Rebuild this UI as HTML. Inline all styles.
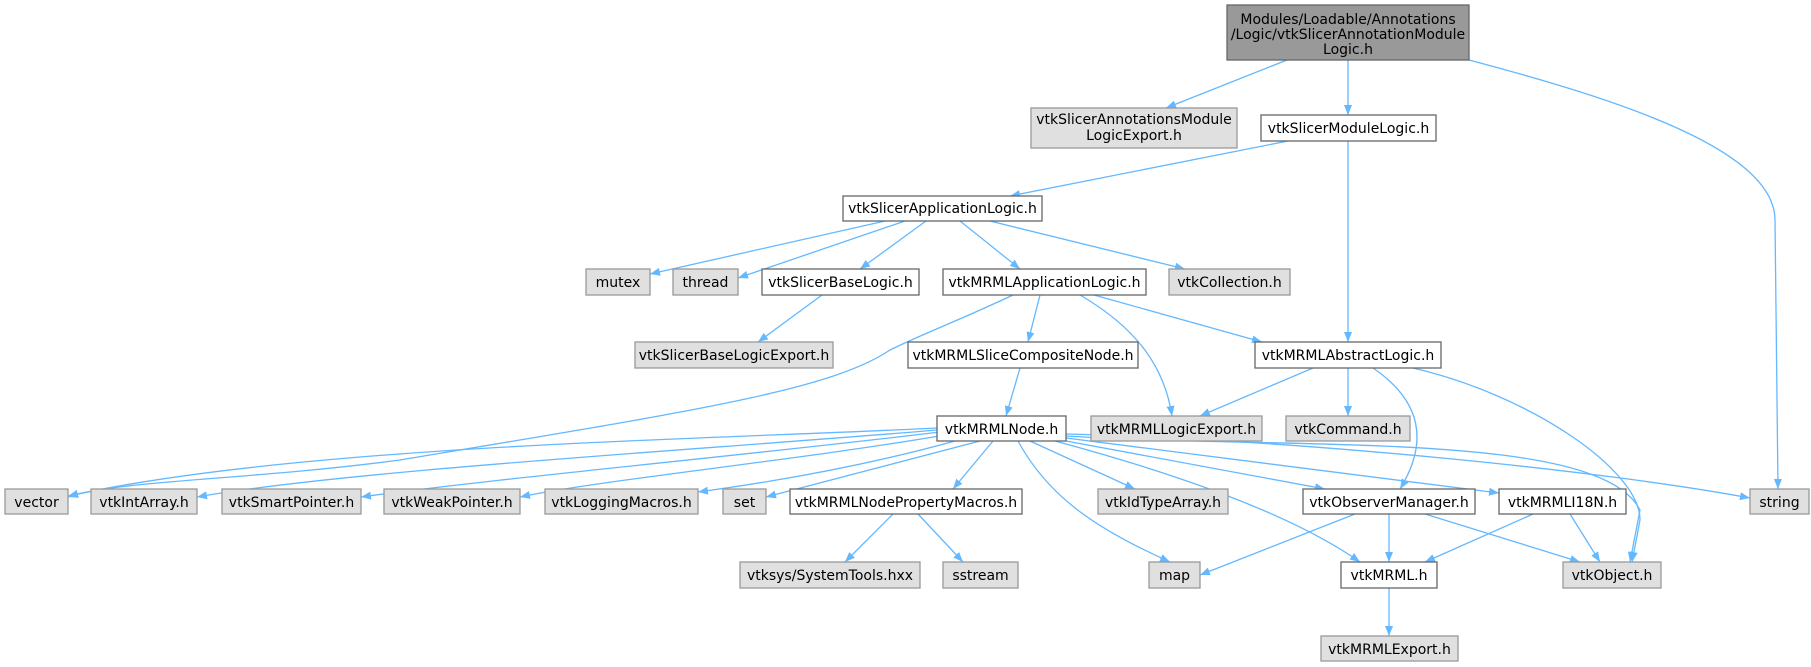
<!DOCTYPE html>
<html><head><meta charset="utf-8"><style>
html,body{margin:0;padding:0;background:#fff;width:1811px;height:667px;overflow:hidden}
text{font-family:"DejaVu Sans","Liberation Sans",sans-serif;font-size:14px;fill:#000}
.e{fill:none;stroke:#63b8ff;stroke-width:1.3}
.w{fill:#fff;stroke:#666;stroke-width:1.3}
.g{fill:#e0e0e0;stroke:#999;stroke-width:1.3}
.r{fill:#999;stroke:#666;stroke-width:1.3}
</style></head><body>
<svg width="1811" height="667" viewBox="0 0 1811 667" xmlns="http://www.w3.org/2000/svg">
<defs><marker id="a" viewBox="0 0 10 10" refX="10" refY="5" markerWidth="10" markerHeight="10" markerUnits="userSpaceOnUse" orient="auto"><path d="M0,1 L10,5 L0,9 Z" fill="#63b8ff"/></marker></defs>
<g marker-end="url(#a)">
<path class="e" d="M1287,60 L1166,108"/>
<path class="e" d="M1348,60 L1348,115"/>
<path class="e" d="M1469,60 C1620,100 1775,150 1775,220 L1778,489"/>
<path class="e" d="M1288,141 L1010,196"/>
<path class="e" d="M1348,141 L1348,342"/>
<path class="e" d="M885,221 L650,274"/>
<path class="e" d="M905,221 L738,278"/>
<path class="e" d="M926,221 L860,269"/>
<path class="e" d="M960,221 L1020,269"/>
<path class="e" d="M990,221 L1185,269"/>
<path class="e" d="M822,295 L758,342"/>
<path class="e" d="M1013,295 C960,320 920,335 890,350 C830,390 700,410 400,460 C250,480 120,480 68,497"/>
<path class="e" d="M1040,295 L1028,342"/>
<path class="e" d="M1080,295 C1140,330 1165,370 1172,416"/>
<path class="e" d="M1094,295 L1262,342"/>
<path class="e" d="M1020,368 L1006,416"/>
<path class="e" d="M1313,368 L1200,416"/>
<path class="e" d="M1348,368 L1348,416"/>
<path class="e" d="M1373,368 C1420,400 1430,440 1400,489"/>
<path class="e" d="M1413,368 C1530,395 1640,470 1640,520 L1632,562"/>
<path class="e" d="M937,428 C700,440 300,445 68,496"/>
<path class="e" d="M937,430 C700,450 350,470 197,497"/>
<path class="e" d="M940,432 C750,455 500,478 361,497"/>
<path class="e" d="M945,435 C800,460 600,480 520,497"/>
<path class="e" d="M955,441 C850,470 750,485 698,492"/>
<path class="e" d="M980,441 L766,497"/>
<path class="e" d="M993,441 L953,489"/>
<path class="e" d="M1018,441 C1050,500 1100,530 1170,562"/>
<path class="e" d="M1030,441 L1135,489"/>
<path class="e" d="M1055,441 C1200,480 1300,520 1360,562"/>
<path class="e" d="M1066,441 L1325,489"/>
<path class="e" d="M1066,438 L1499,493"/>
<path class="e" d="M1066,436 C1300,450 1600,430 1640,510 L1630,562"/>
<path class="e" d="M1066,434 C1300,440 1600,470 1750,498"/>
<path class="e" d="M893,514 L845,562"/>
<path class="e" d="M918,514 L963,562"/>
<path class="e" d="M1355,514 L1200,575"/>
<path class="e" d="M1389,514 L1389,562"/>
<path class="e" d="M1425,514 L1580,562"/>
<path class="e" d="M1533,514 L1425,562"/>
<path class="e" d="M1570,514 L1600,562"/>
<path class="e" d="M1389,588 L1389,636"/>
</g>
<rect class="r" x="1227" y="5" width="242" height="55"/>
<text x="1348" y="24" text-anchor="middle">Modules/Loadable/Annotations</text>
<text x="1348" y="39" text-anchor="middle">/Logic/vtkSlicerAnnotationModule</text>
<text x="1348" y="54" text-anchor="middle">Logic.h</text>
<rect class="g" x="1031" y="108" width="206" height="40"/>
<text x="1134" y="124" text-anchor="middle">vtkSlicerAnnotationsModule</text>
<text x="1134" y="140" text-anchor="middle">LogicExport.h</text>
<g>
<rect class="w" x="1261" y="115" width="175" height="26"/><text x="1348.5" y="133" text-anchor="middle">vtkSlicerModuleLogic.h</text>
<rect class="w" x="843" y="196" width="199" height="25"/><text x="942.5" y="213" text-anchor="middle">vtkSlicerApplicationLogic.h</text>
<rect class="g" x="586" y="269" width="64" height="26"/><text x="618" y="287" text-anchor="middle">mutex</text>
<rect class="g" x="673" y="269" width="65" height="26"/><text x="705.5" y="287" text-anchor="middle">thread</text>
<rect class="w" x="762" y="269" width="157" height="26"/><text x="840.5" y="287" text-anchor="middle">vtkSlicerBaseLogic.h</text>
<rect class="w" x="943" y="269" width="203" height="26"/><text x="1044.5" y="287" text-anchor="middle">vtkMRMLApplicationLogic.h</text>
<rect class="g" x="1169" y="269" width="121" height="26"/><text x="1229.5" y="287" text-anchor="middle">vtkCollection.h</text>
<rect class="g" x="635" y="342" width="198" height="26"/><text x="734" y="360" text-anchor="middle">vtkSlicerBaseLogicExport.h</text>
<rect class="w" x="908" y="342" width="230" height="26"/><text x="1023" y="360" text-anchor="middle">vtkMRMLSliceCompositeNode.h</text>
<rect class="w" x="1255" y="342" width="186" height="26"/><text x="1348" y="360" text-anchor="middle">vtkMRMLAbstractLogic.h</text>
<rect class="w" x="937" y="416" width="129" height="25"/><text x="1001.5" y="434" text-anchor="middle">vtkMRMLNode.h</text>
<rect class="g" x="1091" y="416" width="171" height="25"/><text x="1176.5" y="434" text-anchor="middle">vtkMRMLLogicExport.h</text>
<rect class="g" x="1286" y="416" width="124" height="25"/><text x="1348" y="434" text-anchor="middle">vtkCommand.h</text>
<rect class="g" x="5" y="489" width="63" height="25"/><text x="36.5" y="507" text-anchor="middle">vector</text>
<rect class="g" x="91" y="489" width="106" height="25"/><text x="144" y="507" text-anchor="middle">vtkIntArray.h</text>
<rect class="g" x="222" y="489" width="139" height="25"/><text x="291.5" y="507" text-anchor="middle">vtkSmartPointer.h</text>
<rect class="g" x="384" y="489" width="136" height="25"/><text x="452" y="507" text-anchor="middle">vtkWeakPointer.h</text>
<rect class="g" x="545" y="489" width="153" height="25"/><text x="621.5" y="507" text-anchor="middle">vtkLoggingMacros.h</text>
<rect class="g" x="723" y="489" width="43" height="25"/><text x="744.5" y="507" text-anchor="middle">set</text>
<rect class="w" x="790" y="489" width="232" height="25"/><text x="906" y="507" text-anchor="middle">vtkMRMLNodePropertyMacros.h</text>
<rect class="g" x="1098" y="489" width="130" height="25"/><text x="1163" y="507" text-anchor="middle">vtkIdTypeArray.h</text>
<rect class="w" x="1303" y="489" width="172" height="25"/><text x="1389" y="507" text-anchor="middle">vtkObserverManager.h</text>
<rect class="w" x="1499" y="489" width="127" height="25"/><text x="1562.5" y="507" text-anchor="middle">vtkMRMLI18N.h</text>
<rect class="g" x="1750" y="489" width="59" height="25"/><text x="1779.5" y="507" text-anchor="middle">string</text>
<rect class="g" x="740" y="562" width="180" height="26"/><text x="830" y="580" text-anchor="middle">vtksys/SystemTools.hxx</text>
<rect class="g" x="943" y="562" width="75" height="26"/><text x="980.5" y="580" text-anchor="middle">sstream</text>
<rect class="g" x="1149" y="562" width="51" height="26"/><text x="1174.5" y="580" text-anchor="middle">map</text>
<rect class="w" x="1341" y="562" width="96" height="26"/><text x="1389" y="580" text-anchor="middle">vtkMRML.h</text>
<rect class="g" x="1563" y="562" width="98" height="26"/><text x="1612" y="580" text-anchor="middle">vtkObject.h</text>
<rect class="g" x="1321" y="636" width="137" height="25"/><text x="1389.5" y="654" text-anchor="middle">vtkMRMLExport.h</text>
</g>
</svg>
</body></html>
